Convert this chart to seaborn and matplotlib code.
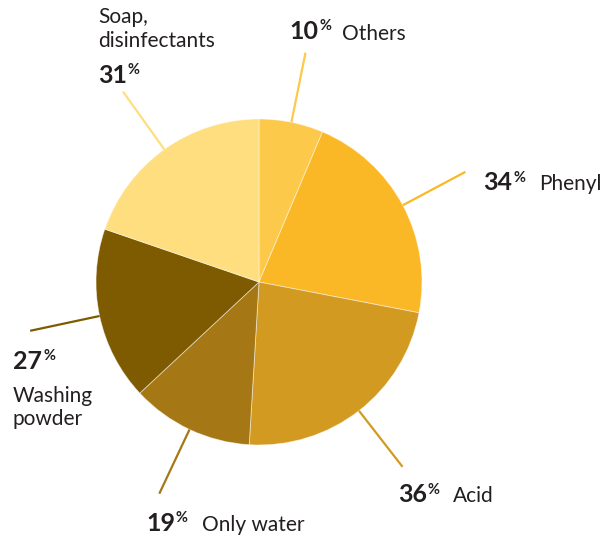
import matplotlib
matplotlib.use("Agg")
import matplotlib.pyplot as plt
import seaborn as sns
import numpy as np

# Survey: cleaning agents used (multiple answers, % of respondents)
categories = ["Others", "Phenyl", "Acid", "Only water", "Washing powder", "Soap, disinfectants"]
shares = [10, 34, 36, 19, 27, 31]
name_lines = [["Others"], ["Phenyl"], ["Acid"], ["Only water"],
              ["Washing", "powder"], ["Soap,", "disinfectants"]]
colors = ["#FDC94B", "#FBB826", "#D39A21", "#A57815", "#7E5B00", "#FEDE7E"]

sns.set_theme(style="white")
plt.rcParams["font.family"] = ["Lato", "DejaVu Sans"]

W, H = 608, 539
fig = plt.figure(figsize=(W / 100, H / 100), dpi=100)
ax = fig.add_axes([0, 0, 1, 1])

cx, cy, R = 259, 282, 163
wedges, _ = ax.pie(shares, colors=colors, startangle=-90, counterclock=True,
                   center=(cx, cy), radius=R,
                   wedgeprops=dict(edgecolor=(1, 1, 1, 0.55), linewidth=0.6))

ax.set_xlim(0, W)
ax.set_ylim(H, 0)
ax.set_aspect("equal")
ax.axis("off")

# radial leader lines at each wedge's mid angle
r_out = R + 71
for w, c in zip(wedges, colors):
    th = np.deg2rad((w.theta1 + w.theta2) / 2)
    ax.plot([cx + R * np.cos(th), cx + r_out * np.cos(th)],
            [cy + R * np.sin(th), cy + r_out * np.sin(th)],
            color=c, lw=1.6, solid_capstyle="butt", zorder=3)

# label layout: (number x, number baseline, name x, name baselines)
layout = {
    "Others": (289, 39, 342, [40]),
    "Phenyl": (483, 190, 539, [190]),
    "Acid": (398, 502, 453, [502]),
    "Only water": (146, 531, 202, [531]),
    "Washing powder": (13, 369, 13, [402, 425]),
    "Soap, disinfectants": (98, 83, 98, [23, 47]),
}

ink = "#231F20"
fig.canvas.draw()
renderer = fig.canvas.get_renderer()
inv = ax.transData.inverted()

for cat, val, lines in zip(categories, shares, name_lines):
    nx, nb, tx, tbs = layout[cat]
    t = ax.text(nx, nb, f"{val}", fontsize=18, fontweight="bold", color=ink,
                ha="left", va="baseline")
    bb = t.get_window_extent(renderer)
    x1 = inv.transform((bb.x1, bb.y0))[0]
    ax.text(x1 + 1, nb - 8.5, "%", fontsize=10.5, fontweight="bold", color=ink,
            ha="left", va="baseline")
    for line, yb in zip(lines, tbs):
        ax.text(tx, yb, line, fontsize=15, color=ink, ha="left", va="baseline")

fig.savefig("out.png", dpi=100, facecolor="white")
